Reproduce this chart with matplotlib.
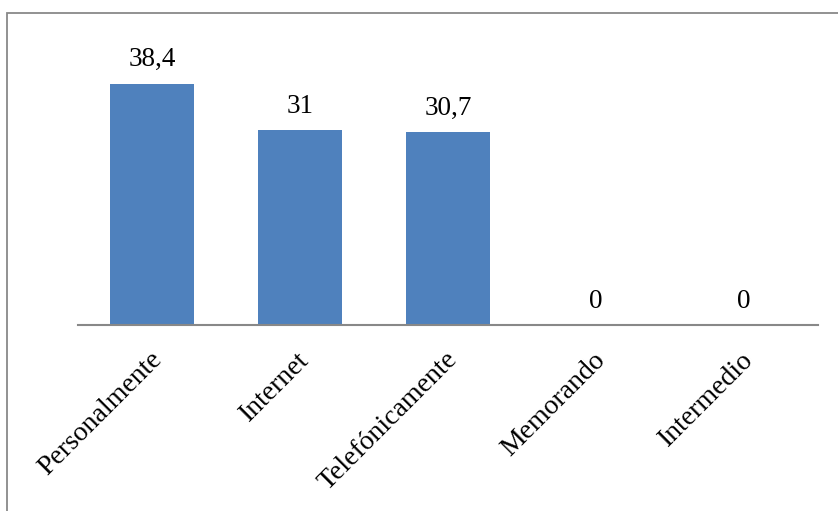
import matplotlib
matplotlib.use("Agg")
import matplotlib.pyplot as plt
from matplotlib.patches import Rectangle
from matplotlib.transforms import ScaledTranslation

categories = ["Personalmente", "Internet", "Telefónicamente", "Memorando", "Intermedio"]
values = [38.4, 31, 30.7, 0, 0]
value_labels = ["38,4", "31", "30,7", "0", "0"]

W, H = 838, 511
fig = plt.figure(figsize=(W/100, H/100), dpi=100)
plt.rcParams['font.family'] = ['Liberation Serif', 'DejaVu Serif']

# outer chart frame
fig.patches.append(Rectangle((7/W, -0.1), 1.2, (H-13)/H + 0.1, transform=fig.transFigure,
                             fill=False, edgecolor='#898989', linewidth=1.3))

ymax = 45
ax = fig.add_axes([78/W, (H-325)/H, 740/W, (325-42)/H])
x = range(len(categories))
ax.bar(x, values, width=0.57, color='#4f81bd')
ax.set_xlim(-0.5, len(categories)-0.5)
ax.set_ylim(0, ymax)
for s in ['top', 'right', 'left']:
    ax.spines[s].set_visible(False)
ax.spines['bottom'].set_color('#888888')
ax.spines['bottom'].set_linewidth(1.5)
ax.set_yticks([])
ax.set_xticks(list(x))
ax.set_xticklabels(categories, rotation=45, ha='right', va='top', rotation_mode='anchor', fontsize=20)
ax.tick_params(axis='x', length=0, pad=16)
for lbl in ax.get_xticklabels():
    lbl.set_transform(lbl.get_transform() + ScaledTranslation(-3/100, 0, fig.dpi_scale_trans))
ax.patch.set_visible(False)

for xi, v, lab in zip(x, values, value_labels):
    ax.annotate(lab, (xi, v), xytext=(0, 8), textcoords='offset points',
                ha='center', va='bottom', fontsize=19.5)

fig.savefig('out.png', dpi=100)
